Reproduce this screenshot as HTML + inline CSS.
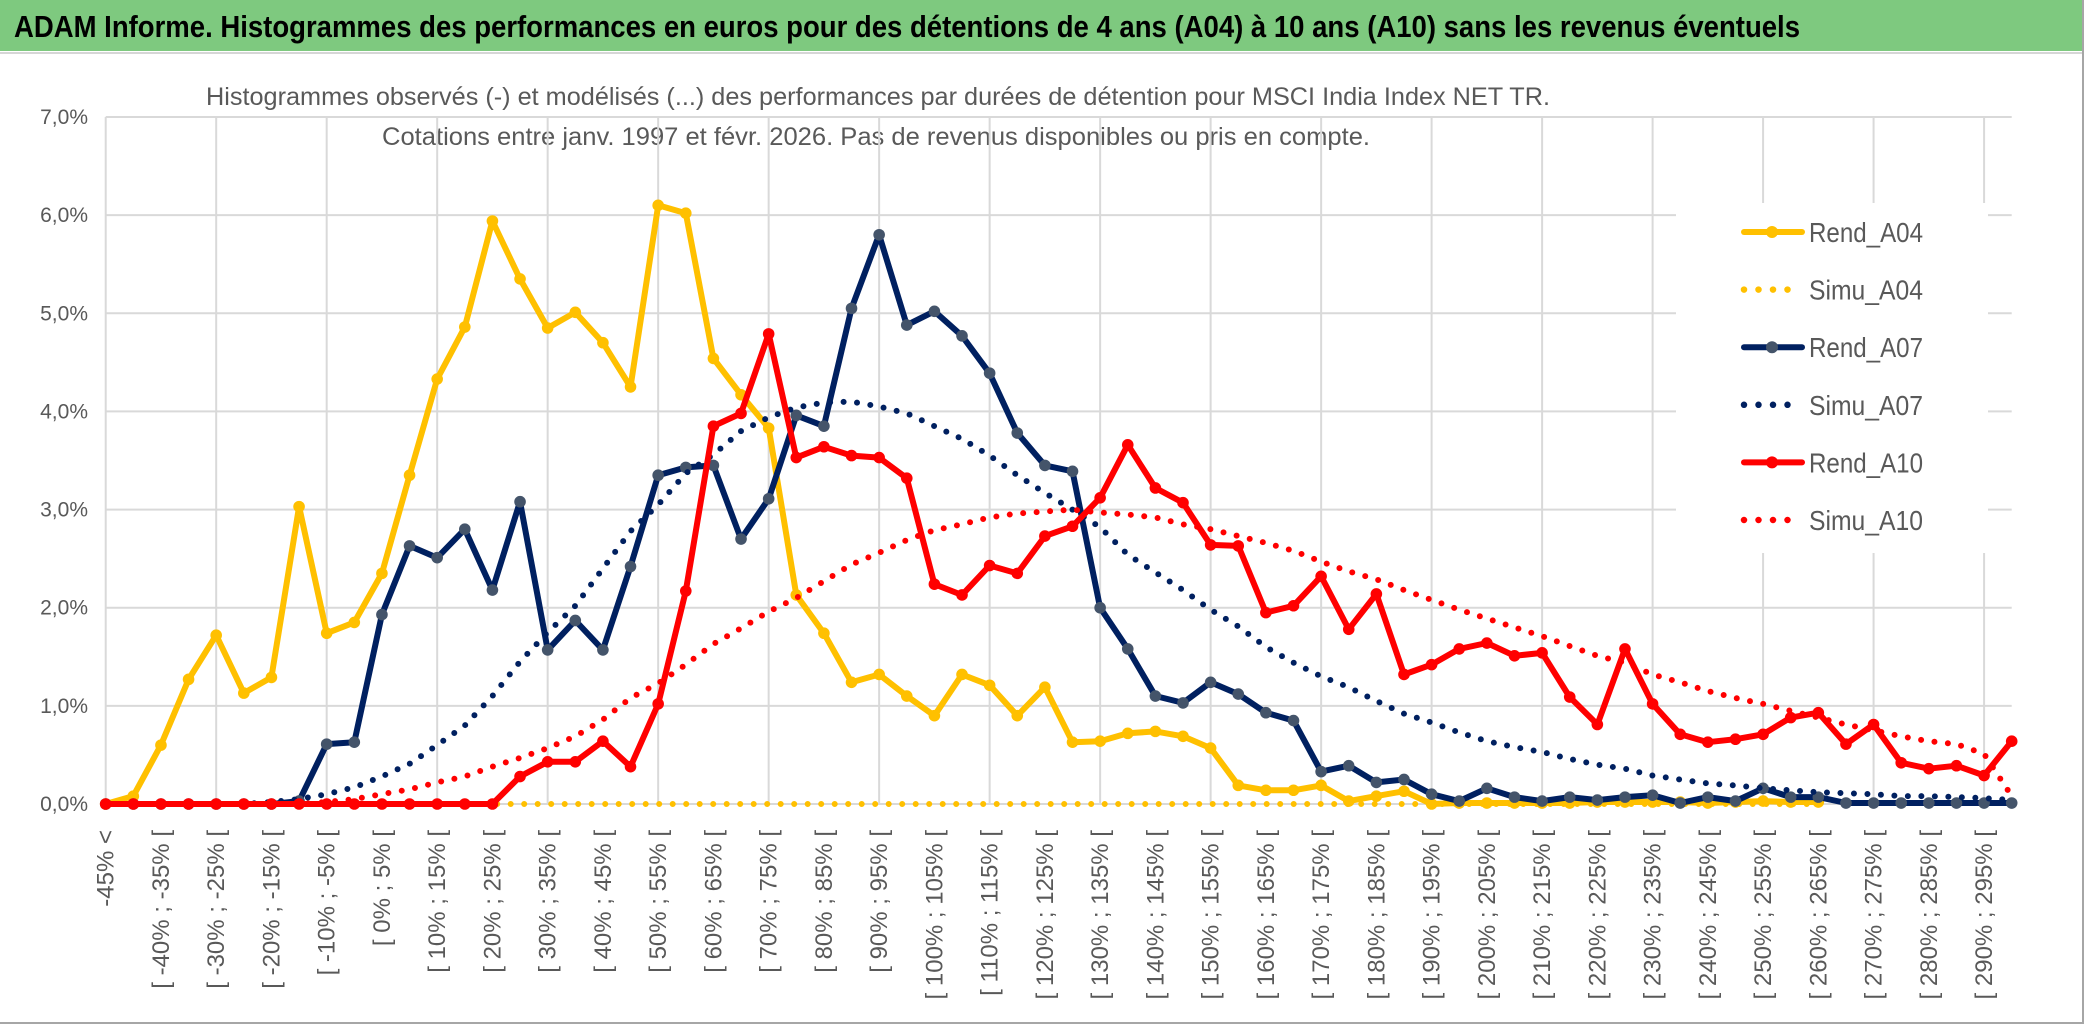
<!DOCTYPE html>
<html><head><meta charset="utf-8"><style>
html,body{margin:0;padding:0;background:#fff;}
svg{display:block;font-family:"Liberation Sans",sans-serif;}
</style></head><body>
<svg id="chart" width="2086" height="1031" viewBox="0 0 2086 1031" xmlns="http://www.w3.org/2000/svg">
<rect x="0" y="0" width="2086" height="1031" fill="#fff"/>
<rect x="0" y="0" width="2083" height="51" fill="#7ec97f"/>
<line x1="0" y1="53" x2="2083" y2="53" stroke="#d6d6d6" stroke-width="2"/>
<line x1="2083" y1="0" x2="2083" y2="1024" stroke="#a6a6a6" stroke-width="2"/>
<line x1="0" y1="1023" x2="2083" y2="1023" stroke="#a6a6a6" stroke-width="2"/>
<text x="14" y="37" font-size="31" font-weight="bold" fill="#000" textLength="1786" lengthAdjust="spacingAndGlyphs">ADAM Informe. Histogrammes des performances en euros pour des détentions de 4 ans (A04) à 10 ans (A10) sans les revenus éventuels</text>
<text x="206" y="105" font-size="25" fill="#595959" textLength="1344" lengthAdjust="spacingAndGlyphs">Histogrammes observés (-) et modélisés (...) des performances par durées de détention pour MSCI India Index NET TR.</text>
<text x="382" y="145" font-size="25" fill="#595959" textLength="988" lengthAdjust="spacingAndGlyphs">Cotations entre janv. 1997 et févr. 2026. Pas de revenus disponibles ou pris en compte.</text>
<g id="grid"></g>
<g id="legendbg"></g>
<g id="series"></g>
<g id="legend"></g>
<g id="xlabels"></g>
<g id="ylabels"></g>
</svg>
<script>
const categories = ["-45% <","[ -45% ; -40% [","[ -40% ; -35% [","[ -35% ; -30% [","[ -30% ; -25% [","[ -25% ; -20% [","[ -20% ; -15% [","[ -15% ; -10% [","[ -10% ; -5% [","[ -5% ; 0% [",
"[ 0% ; 5% [","[ 5% ; 10% [","[ 10% ; 15% [","[ 15% ; 20% [","[ 20% ; 25% [","[ 25% ; 30% [","[ 30% ; 35% [","[ 35% ; 40% [","[ 40% ; 45% [","[ 45% ; 50% [",
"[ 50% ; 55% [","[ 55% ; 60% [","[ 60% ; 65% [","[ 65% ; 70% [","[ 70% ; 75% [","[ 75% ; 80% [","[ 80% ; 85% [","[ 85% ; 90% [","[ 90% ; 95% [","[ 95% ; 100% [",
"[ 100% ; 105% [","[ 105% ; 110% [","[ 110% ; 115% [","[ 115% ; 120% [","[ 120% ; 125% [","[ 125% ; 130% [","[ 130% ; 135% [","[ 135% ; 140% [","[ 140% ; 145% [","[ 145% ; 150% [",
"[ 150% ; 155% [","[ 155% ; 160% [","[ 160% ; 165% [","[ 165% ; 170% [","[ 170% ; 175% [","[ 175% ; 180% [","[ 180% ; 185% [","[ 185% ; 190% [","[ 190% ; 195% [","[ 195% ; 200% [",
"[ 200% ; 205% [","[ 205% ; 210% [","[ 210% ; 215% [","[ 215% ; 220% [","[ 220% ; 225% [","[ 225% ; 230% [","[ 230% ; 235% [","[ 235% ; 240% [","[ 240% ; 245% [","[ 245% ; 250% [",
"[ 250% ; 255% [","[ 255% ; 260% [","[ 260% ; 265% [","[ 265% ; 270% [","[ 270% ; 275% [","[ 275% ; 280% [","[ 280% ; 285% [","[ 285% ; 290% [","[ 290% ; 295% [","[ 295% ; 300% ["];
const yTicks = [0,1,2,3,4,5,6,7];
const yTickLabels = ["0,0%","1,0%","2,0%","3,0%","4,0%","5,0%","6,0%","7,0%"];
const rendA04 = [0,0.08,0.6,1.27,1.72,1.13,1.29,3.03,1.74,1.85,2.35,3.35,4.33,4.86,5.94,5.35,4.85,5.01,4.70,4.25,6.10,6.02,4.54,4.17,3.83,2.13,1.74,1.24,1.32,1.10,0.90,1.32,1.21,0.90,1.19,0.63,0.64,0.72,0.74,0.69,0.57,0.19,0.14,0.14,0.19,0.03,0.08,0.13,0.0,0.01,0.01,0.01,0.01,0.01,0.02,0.02,0.02,0.02,0.01,0.02,0.03,0.02,0.02];
const simuA04 = [0,0,0,0,0,0,0,0,0,0,0,0,0,0,0,0,0,0,0,0,0,0,0,0,0,0,0,0,0,0,0,0,0,0,0,0,0,0,0,0,0,0,0,0,0,0,0,0,0,0,0,0,0,0,0,0,0,0,0,0,0,0,0];
const rendA07 = [0,0,0,0,0,0,0,0.03,0.61,0.63,1.93,2.63,2.51,2.8,2.18,3.08,1.57,1.87,1.57,2.42,3.35,3.43,3.45,2.70,3.11,3.96,3.85,5.05,5.80,4.88,5.02,4.77,4.39,3.78,3.45,3.39,2.0,1.58,1.10,1.03,1.24,1.12,0.93,0.85,0.33,0.39,0.22,0.25,0.10,0.03,0.16,0.07,0.03,0.07,0.04,0.07,0.09,0.01,0.07,0.03,0.16,0.07,0.07,0.01,0.01,0.01,0.01,0.01,0.01,0.01];
const simuA07 = [0,0,0,0,0,0,0.02,0.05,0.1,0.17,0.28,0.41,0.6,0.8,1.1,1.45,1.75,2.02,2.4,2.78,3.05,3.37,3.56,3.8,3.94,4.04,4.09,4.1,4.05,3.98,3.85,3.72,3.55,3.35,3.17,3.0,2.82,2.54,2.36,2.18,1.98,1.81,1.6,1.44,1.3,1.19,1.05,0.92,0.83,0.73,0.64,0.58,0.53,0.46,0.40,0.36,0.29,0.25,0.21,0.19,0.16,0.14,0.12,0.11,0.10,0.08,0.08,0.07,0.06,0.04];
const rendA10 = [0,0,0,0,0,0,0,0,0,0,0,0,0,0,0,0.28,0.43,0.43,0.64,0.38,1.02,2.17,3.85,3.98,4.79,3.53,3.64,3.55,3.53,3.32,2.24,2.13,2.43,2.35,2.73,2.83,3.12,3.66,3.22,3.07,2.64,2.63,1.95,2.02,2.32,1.78,2.14,1.32,1.42,1.58,1.64,1.51,1.54,1.09,0.81,1.58,1.02,0.71,0.63,0.66,0.71,0.88,0.93,0.61,0.81,0.42,0.36,0.39,0.29,0.64];
const simuA10 = [0,0,0,0,0,0,0,0,0.02,0.05,0.1,0.15,0.22,0.28,0.38,0.47,0.57,0.69,0.86,1.08,1.23,1.42,1.63,1.79,1.96,2.1,2.27,2.44,2.56,2.69,2.79,2.85,2.92,2.96,2.98,3.0,2.97,2.95,2.92,2.85,2.8,2.73,2.66,2.58,2.47,2.37,2.29,2.18,2.08,1.98,1.89,1.8,1.71,1.61,1.51,1.44,1.32,1.24,1.15,1.08,1.02,0.95,0.88,0.81,0.75,0.69,0.64,0.61,0.51,0.08];
const seriesNames = ["Rend_A04","Simu_A04","Rend_A07","Simu_A07","Rend_A10","Simu_A10"];

const NS = "http://www.w3.org/2000/svg";
const X0 = 105.7, X1 = 2011.7, Y0 = 804, Y7 = 117;
function xPos(i){ return X0 + i * (X1 - X0) / (categories.length - 1); }
function yPos(v){ return Y0 - v * (Y0 - Y7) / 7; }
function mk(tag, attrs, parent){ const e = document.createElementNS(NS, tag); for (const k in attrs) e.setAttribute(k, attrs[k]); parent.appendChild(e); return e; }

const grid = document.getElementById('grid');
yTicks.forEach(function(t){
  const l = mk('line', {x1:X0, x2:X1, y1:yPos(t), y2:yPos(t), stroke:'#d9d9d9', 'stroke-width':2}, grid);
  
  
});
categories.forEach(function(c, i){
  if (i % 4 !== 0) return;
  const l = mk('line', {x1:xPos(i), x2:xPos(i), y1:Y7, y2:Y0, stroke:'#d9d9d9', 'stroke-width':2}, grid);
  
  
});
const lbg = mk('rect', {x:1676, y:203, width:312, height:350, fill:'#fff'}, document.getElementById('legendbg'));



const yl = document.getElementById('ylabels');
yTicks.forEach(function(t, k){
  const tx = mk('text', {x:88, y:yPos(t) + 7, 'font-size':21, fill:'#595959', 'text-anchor':'end'}, yl);
  tx.textContent = yTickLabels[k];
  
  
});
const xl = document.getElementById('xlabels');
categories.forEach(function(c, i){
  if (i % 2 !== 0) return;
  const x = xPos(i) + 8, y = 830;
  const tx = mk('text', {x:x, y:y, 'font-size':24, fill:'#595959', 'text-anchor':'end', transform:'rotate(-90 ' + x + ' ' + y + ')'}, xl);
  tx.textContent = c;
  
  
});

const sg = document.getElementById('series');
function solid(data, color, marker, name){
  const g = mk('g', {}, sg);
  
  
  const pts = data.map(function(v, i){ return xPos(i).toFixed(1) + ',' + yPos(v).toFixed(1); }).join(' ');
  const pl = mk('polyline', {points:pts, fill:'none', stroke:color, 'stroke-width':6, 'stroke-linejoin':'round', 'stroke-linecap':'round'}, g);
  
  
  data.forEach(function(v, i){
    const c = mk('circle', {cx:xPos(i), cy:yPos(v), r:5.8, fill:marker}, g);
    
    
  });
}
function dotted(data, color, name){
  const pts = data.map(function(v, i){ return xPos(i).toFixed(1) + ',' + yPos(v).toFixed(1); }).join(' ');
  const pl = mk('polyline', {points:pts, fill:'none', stroke:color, 'stroke-width':6, 'stroke-dasharray':'0 13.5', 'stroke-linecap':'round', 'stroke-linejoin':'round'}, sg);
  
  
}
solid(rendA04, '#ffc000', '#ffc000', 'rend-a04-series');
dotted(simuA04, '#ffc000', 'simu-a04-series');
solid(rendA07, '#002060', '#44546a', 'rend-a07-series');
dotted(simuA07, '#002060', 'simu-a07-series');
solid(rendA10, '#ff0000', '#ff0000', 'rend-a10-series');
dotted(simuA10, '#ff0000', 'simu-a10-series');

const lg = document.getElementById('legend');
const legColors = ['#ffc000','#ffc000','#002060','#002060','#ff0000','#ff0000'];
const legMarkers = ['#ffc000',null,'#44546a',null,'#ff0000',null];
seriesNames.forEach(function(n, k){
  const y = 232 + k * 57.6;
  const g = mk('g', {}, lg);
  
  
  if (legMarkers[k]) {
    mk('line', {x1:1744, x2:1802, y1:y, y2:y, stroke:legColors[k], 'stroke-width':6, 'stroke-linecap':'round'}, g);
    mk('circle', {cx:1772, cy:y, r:6, fill:legMarkers[k]}, g);
  } else {
    mk('line', {x1:1744, x2:1795, y1:y, y2:y, stroke:legColors[k], 'stroke-width':6.5, 'stroke-dasharray':'0 14.5', 'stroke-linecap':'round'}, g);
  }
  const tx = mk('text', {x:1809, y:y + 10, 'font-size':28, fill:'#595959', textLength:114, lengthAdjust:'spacingAndGlyphs'}, g);
  tx.textContent = n;
});
</script>
</body></html>
